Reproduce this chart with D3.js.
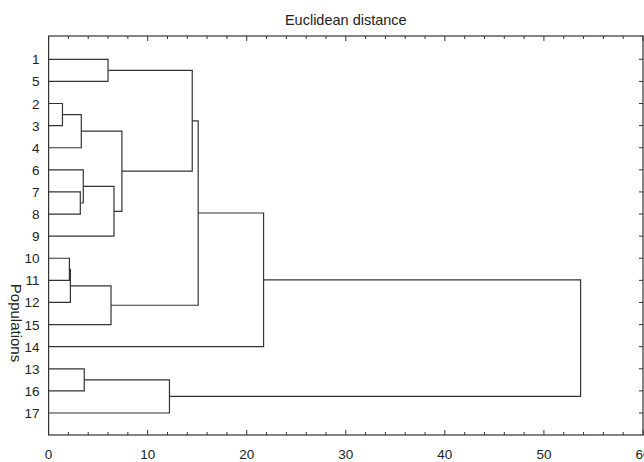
<!DOCTYPE html>
<html><head><meta charset="utf-8">
<script src="https://cdn.jsdelivr.net/npm/d3@7"></script>
<style>body{margin:0;background:#fff}</style>
</head><body>
<script>
// leaf order top to bottom
const leaves = ["1","5","2","3","4","6","7","8","9","10","11","12","15","14","13","16","17"];
// merges: [left, right, distance]; ids refer to leaves or earlier merges (m0, m1, ...)
const merges = [
  ["2","3",1.4], ["m0","4",3.3], ["7","8",3.2], ["6","m2",3.5], ["m3","9",6.6],
  ["m1","m4",7.4], ["1","5",6.0], ["m6","m5",14.5],
  ["10","11",2.1], ["m8","12",2.2], ["m9","15",6.3], ["m7","m10",15.1],
  ["m11","14",21.7], ["13","16",3.6], ["m13","17",12.2], ["m12","m14",53.7]
];
const xTicks = [0,10,20,30,40,50,60];

const width = 644, height = 462;
const pLeft = 48.6, pRight = 643, pTop = 36, pBottom = 435;

const x = d3.scaleLinear().domain([0,60]).range([pLeft,pRight]);
const y = d3.scalePoint().domain(leaves).range([59.3, 413]);

const svg = d3.select('body').append('svg').attr('width',width).attr('height',height)
  .style('font-family','Liberation Sans, Arial, sans-serif');

const pos = {};
leaves.forEach(l => pos[l] = {x:x(0), y:y(l)});
const links = svg.append('g').attr('fill','none').attr('stroke','#333').attr('stroke-width',1.2);
merges.forEach((m,i) => {
  const a = pos[m[0]], b = pos[m[1]], hx = x(m[2]);
  links.append('path').attr('d',`M${a.x},${a.y}H${hx}V${b.y}H${b.x}`);
  pos['m'+i] = {x:hx, y:(a.y+b.y)/2};
});

// frame
svg.append('rect').attr('x',pLeft).attr('y',pTop).attr('width',pRight-pLeft).attr('height',pBottom-pTop)
  .attr('fill','none').attr('stroke','#333').attr('stroke-width',1.2);

// ticks top and bottom
const minor = d3.range(0,61,2);
const ax = svg.append('g');
minor.forEach(v => {
  const len = v % 10 === 0 ? 5 : 3;
  ax.append('line').attr('x1',x(v)).attr('x2',x(v)).attr('y1',pBottom).attr('y2',pBottom-len).attr('stroke','#333');
  ax.append('line').attr('x1',x(v)).attr('x2',x(v)).attr('y1',pTop).attr('y2',pTop+len).attr('stroke','#333');
});
xTicks.forEach(v => ax.append('text').attr('x',x(v)).attr('y',pBottom+24).attr('text-anchor','middle')
  .attr('font-size',13.5).attr('fill','#222').text(v));

// leaf labels and right ticks
leaves.forEach(l => {
  svg.append('text').attr('x',pLeft-9).attr('y',y(l)+5).attr('text-anchor','end')
    .attr('font-size',13.5).attr('fill','#222').text(l);
  svg.append('line').attr('x1',pRight).attr('x2',pRight-4).attr('y1',y(l)).attr('y2',y(l)).attr('stroke','#333');
});

svg.append('text').attr('x',(pLeft+pRight)/2).attr('y',25).attr('text-anchor','middle')
  .attr('font-size',14.5).attr('fill','#222').text('Euclidean distance');
svg.append('text').attr('transform',`translate(11,323) rotate(90)`).attr('text-anchor','middle')
  .attr('font-size',15).attr('fill','#222').text('Populations');
</script>
</body></html>
